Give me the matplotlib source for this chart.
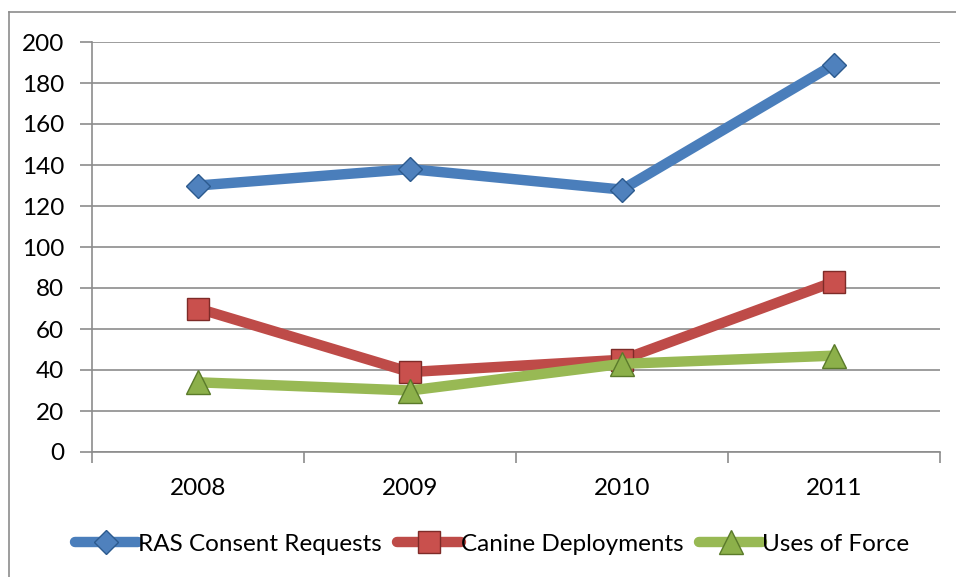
import matplotlib
matplotlib.use("Agg")
import matplotlib.pyplot as plt
from matplotlib.lines import Line2D

plt.rcParams['font.family'] = ['Lato', 'DejaVu Sans']

years = ['2008', '2009', '2010', '2011']
ras_requests = [130, 138, 128, 189]
canine_deploy = [70, 39, 45, 83]
uses_of_force = [34, 30, 43, 47]

series = [
    ('RAS Consent Requests', ras_requests, '#4A7EBB', '#4F81BD', '#2C5A8E', 'D', 12.5),
    ('Canine Deployments', canine_deploy, '#BE4B48', '#C9504D', '#7E2B28', 's', 15.5),
    ('Uses of Force', uses_of_force, '#98B954', '#8CB04A', '#5A7A2A', '^', 17),
]

W, H = 956, 577
fig = plt.figure(figsize=(W / 100, H / 100), dpi=100)
ax = fig.add_axes([92 / W, 1 - 452 / H, (940 - 92) / W, (452 - 42) / H])

# outer chart border (left and top edges only)
fig.add_artist(Line2D([9 / W, 9 / W], [0, 1 - 12 / H], transform=fig.transFigure,
                      color='#8C8C8C', lw=1.2))
fig.add_artist(Line2D([9 / W, 1], [1 - 12 / H, 1 - 12 / H], transform=fig.transFigure,
                      color='#8C8C8C', lw=1.2))

x = list(range(len(years)))
handles = []
for name, vals, lc, fc, ec, mk, ms in series:
    h, = ax.plot(x, vals, color=lc, lw=7.5, solid_capstyle='round', solid_joinstyle='round',
                 marker=mk, markersize=ms, markerfacecolor=fc, markeredgecolor=ec,
                 markeredgewidth=1.0, label=name, zorder=3)
    handles.append(h)

ax.set_xlim(-0.5, len(years) - 0.5)
ax.set_ylim(0, 200)
ax.set_yticks(range(0, 201, 20))
ax.set_xticks(x)
ax.set_xticklabels(years)
ax.set_xticks([i - 0.5 for i in range(len(years) + 1)], minor=True)

ax.grid(axis='y', color='#8C8C8C', lw=1.2, zorder=0)
for s in ['top', 'right']:
    ax.spines[s].set_visible(False)
for s in ['left', 'bottom']:
    ax.spines[s].set_color('#8C8C8C')
    ax.spines[s].set_linewidth(1.2)

ax.tick_params(axis='y', length=9, width=1.2, color='#8C8C8C', labelsize=17.5, pad=11)
ax.tick_params(axis='x', which='major', length=0, labelsize=17.5, pad=19)
ax.tick_params(axis='x', which='minor', length=8, width=1.2, color='#8C8C8C')

fig.legend(handles=handles, loc='center', bbox_to_anchor=(492 / W, 1 - 544 / H),
           ncol=3, frameon=False, fontsize=17.5, handlelength=2.6, handletextpad=0.0,
           columnspacing=0.65, borderpad=0)

fig.savefig('out.png', dpi=100)
